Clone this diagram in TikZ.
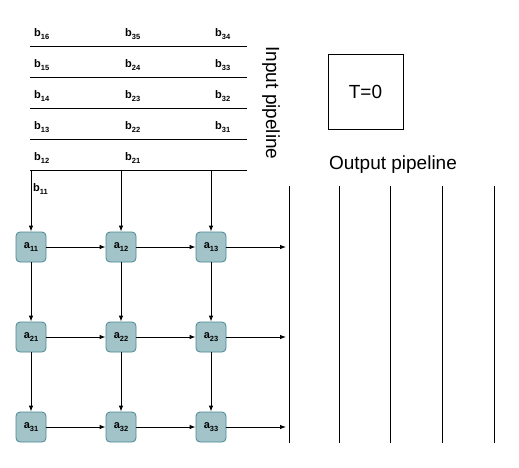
\documentclass[tikz,border=0pt]{standalone}
\usepackage{fontspec}
\setmainfont{Liberation Sans}
\usetikzlibrary{arrows.meta}
\definecolor{cellfill}{HTML}{A2C4C9}
\definecolor{celldraw}{HTML}{4A8793}
\newcommand{\lowsub}[1]{\raisebox{-3pt}{\fontsize{7.5}{9}\selectfont #1}}
\begin{document}
\begin{tikzpicture}[x=1pt,y=-1pt,
  cell/.style={draw=celldraw,fill=cellfill,rounded corners=4pt,minimum size=30pt,inner sep=0pt,line width=0.8pt,font=\fontsize{11}{13}\selectfont\bfseries},
  blab/.style={anchor=west,inner sep=0pt,font=\fontsize{11}{13}\selectfont\bfseries},
  pipe/.style={line width=0.9pt},
  flow/.style={line width=0.9pt,-{Latex[length=6pt,width=4.5pt]}},
  big/.style={font=\fontsize{19}{22}\selectfont}]
\useasboundingbox[fill=white] (0,0) rectangle (519,467);
% input pipeline lines
\foreach \y/\n in {46/l1,77/l2,108/l3,139/l4,170/l5}{
  \coordinate (\n a) at (30,\y); \coordinate (\n b) at (247,\y);
  \draw[pipe] (\n a) -- (\n b);
}
% b labels
\node[blab] (b16) at (34,34) {b\lowsub{16}};
\node[blab] (b35) at (125,34) {b\lowsub{35}};
\node[blab] (b34) at (215,34) {b\lowsub{34}};
\node[blab] (b15) at (34,65) {b\lowsub{15}};
\node[blab] (b24) at (125,65) {b\lowsub{24}};
\node[blab] (b33) at (215,65) {b\lowsub{33}};
\node[blab] (b14) at (34,96) {b\lowsub{14}};
\node[blab] (b23) at (125,96) {b\lowsub{23}};
\node[blab] (b32) at (215,96) {b\lowsub{32}};
\node[blab] (b13) at (34,127) {b\lowsub{13}};
\node[blab] (b22) at (125,127) {b\lowsub{22}};
\node[blab] (b31) at (215,127) {b\lowsub{31}};
\node[blab] (b12) at (34,158) {b\lowsub{12}};
\node[blab] (b21) at (125,158) {b\lowsub{21}};
\node[blab] (b11) at (33,189) {b\lowsub{11}};
% cells
\foreach \r/\y in {1/247,2/337,3/427}{
  \foreach \c/\x in {1/31,2/121,3/211}{
    \node[cell] (a\r\c) at (\x,\y) {a\lowsub{\r\c}};
  }
}
% input feeds
\coordinate (i1) at (31,170); \coordinate (i2) at (121,170); \coordinate (i3) at (211,170);
\foreach \c in {1,2,3}{ \draw[flow] (i\c) -- (a1\c.north); }
% grid arrows
\foreach \r in {1,2,3}{
  \draw[flow] (a\r1) -- (a\r2);
  \draw[flow] (a\r2) -- (a\r3);
}
\foreach \c in {1,2,3}{
  \draw[flow] (a1\c) -- (a2\c);
  \draw[flow] (a2\c) -- (a3\c);
}
\coordinate (o1) at (286,247); \coordinate (o2) at (286,337); \coordinate (o3) at (286,427);
\foreach \r in {1,2,3}{ \draw[flow] (a\r3) -- (o\r); }
% output pipeline lines
\foreach \x/\n in {289/p1,339/p2,390/p3,442/p4,494/p5}{
  \coordinate (\n t) at (\x,186); \coordinate (\n b) at (\x,443);
  \draw[pipe] (\n t) -- (\n b);
}
% labels
\node[big,rotate=-90] (inlab) at (271,103) {Input pipeline};
\node[big] (outlab) at (393,165) {Output pipeline};
\node[draw,line width=0.9pt,minimum width=75pt,minimum height=75pt,inner sep=0pt,big] (T) at (365.5,91.5) {T=0};
\end{tikzpicture}
\end{document}
